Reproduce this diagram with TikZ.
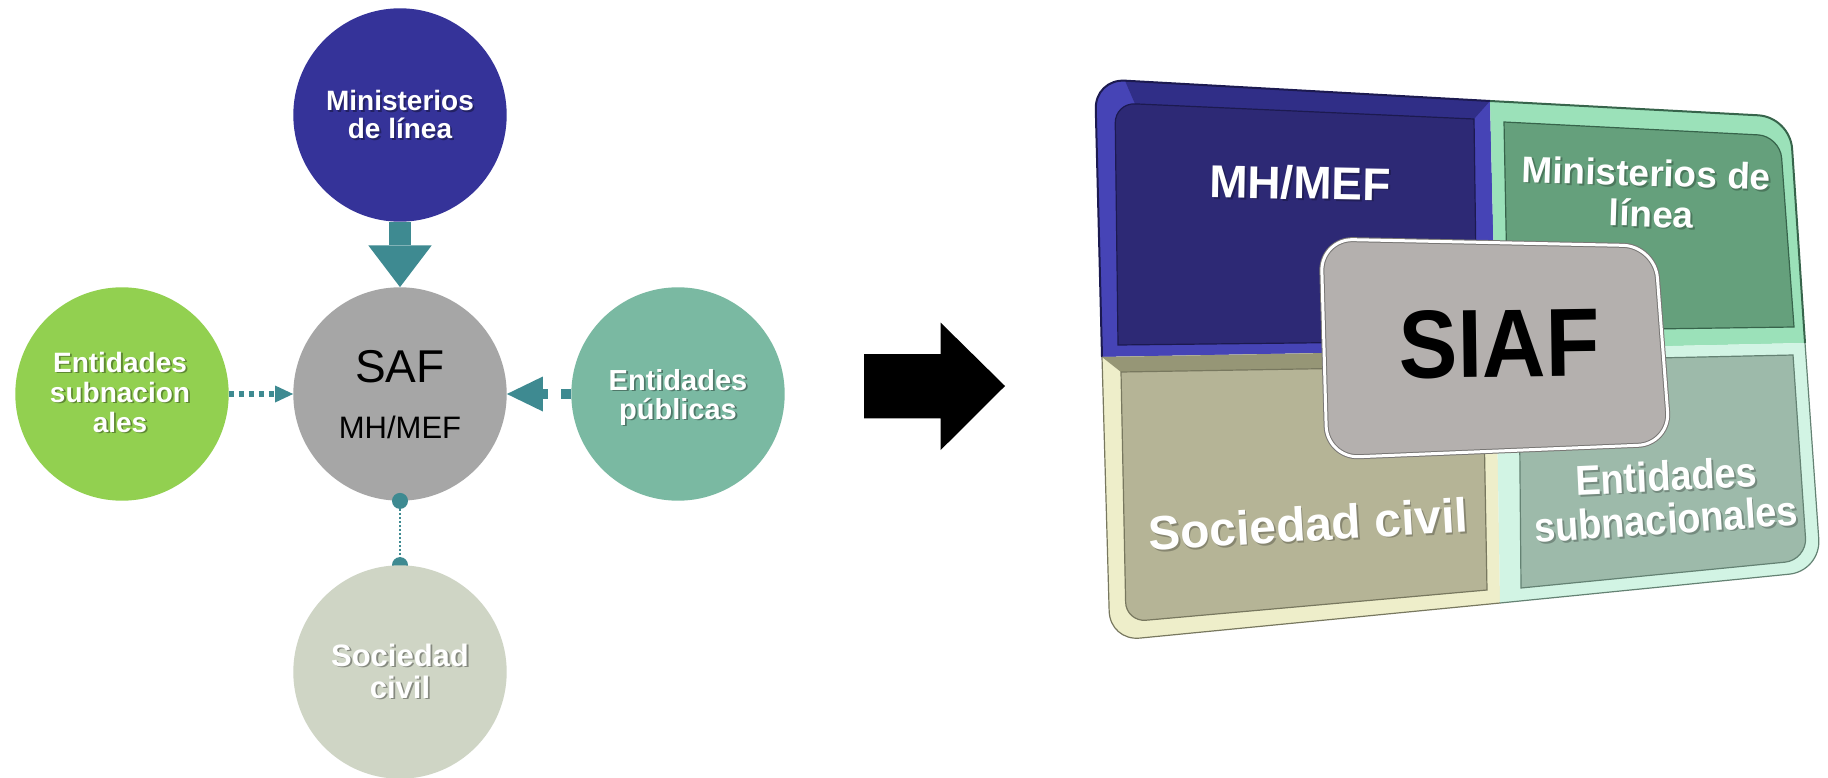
\documentclass[tikz,border=0pt]{standalone}
\usepackage{fontspec}
\setmainfont{Liberation Sans}
\usetikzlibrary{arrows.meta,calc}
\definecolor{minc}{RGB}{53,51,153}
\definecolor{safc}{RGB}{166,166,166}
\definecolor{subc}{RGB}{146,208,80}
\definecolor{pubc}{RGB}{122,185,162}
\definecolor{socc}{RGB}{207,213,197}
\definecolor{tealc}{RGB}{62,138,145}
\definecolor{mhbev}{RGB}{70,68,182}
\definecolor{mhtop}{RGB}{48,46,135}
\definecolor{mhface}{RGB}{45,41,117}
\definecolor{mhedge}{RGB}{28,26,80}
\definecolor{minbev}{RGB}{155,225,185}
\definecolor{minface}{RGB}{101,160,124}
\definecolor{minedge}{RGB}{55,100,75}
\definecolor{socbev}{RGB}{238,238,202}
\definecolor{soctop}{RGB}{150,150,118}
\definecolor{socface}{RGB}{181,180,150}
\definecolor{socedge}{RGB}{120,120,95}
\definecolor{entbev}{RGB}{210,244,228}
\definecolor{entface}{RGB}{157,186,170}
\definecolor{entedge}{RGB}{100,130,115}
\definecolor{siafc}{RGB}{180,176,174}
\definecolor{siafedge}{RGB}{120,118,116}
\pgfdeclarelayer{bg}
\pgfsetlayers{bg,main}
\newcommand\shtxt[7]{%
  \node[txt, text=black, opacity=#6, font=\fontsize{#3}{#3}\selectfont\bfseries, rotate=#4, yscale=#5] (#1s) at ($(#2)+(1.8,1.8)$) {#7};
  \node[txt, text=white, font=\fontsize{#3}{#3}\selectfont\bfseries, rotate=#4, yscale=#5] (#1) at (#2) {#7};}
\begin{document}
\begin{tikzpicture}[x=1pt,y=-1pt,
  circ/.style={circle, minimum size=213.4pt, inner sep=0pt, draw=none},
  txt/.style={anchor=base, inner sep=0pt, outer sep=0pt},
  innerline/.style={line width=1.2pt}]
\begin{pgfonlayer}{bg}
\fill[white] (0,0) rectangle (1828,778);
\end{pgfonlayer}
\useasboundingbox (0,0) rectangle (1828,778);

% ---------- left diagram ----------
\node[circ, fill=minc] (min) at (400,115) {};
\node[circ, fill=safc] (saf) at (400,394) {};
\node[circ, fill=subc] (sub) at (122,394) {};
\node[circ, fill=pubc] (pub) at (678,394) {};
\node[circ, fill=socc] (soc) at (400,672) {};

\shtxt{tmina}{400,111}{28}{0}{1}{0.35}{Ministerios}
\shtxt{tminb}{400,139}{28}{0}{1}{0.35}{de línea}
\node[txt, font=\fontsize{46}{46}\selectfont] (tsafa) at (400,382) {SAF};
\node[txt, font=\fontsize{31}{31}\selectfont] (tsafb) at (400,438) {MH/MEF};
\shtxt{tsuba}{120,372}{28}{0}{1}{0.35}{Entidades}
\shtxt{tsubb}{120,402}{28}{0}{1}{0.35}{subnacion}
\shtxt{tsubc}{120,432}{28}{0}{1}{0.35}{ales}
\shtxt{tpuba}{678,390}{29}{0}{1}{0.35}{Entidades}
\shtxt{tpubb}{678,419}{29}{0}{1}{0.35}{públicas}
\shtxt{tsoca}{400,666}{31}{0}{1}{0.35}{Sociedad}
\shtxt{tsocb}{400,698}{31}{0}{1}{0.35}{civil}

% connectors
\draw[tealc, line width=21.4pt, -{Triangle[width=63.4pt,length=41.7pt,line width=0pt]}] (min.south) -- (saf.north);
\draw[tealc, line width=6pt, dash pattern=on 5pt off 5pt, -{Triangle[width=17pt,length=18pt,line width=0pt]}] (sub.east) -- (saf.west);
\draw[tealc, line width=10.7pt, dash pattern=on 10pt off 13.3pt, -{Triangle[width=35pt,length=36pt,line width=0pt]}] (pub.west) -- (saf.east);
\begin{pgfonlayer}{bg}
\draw[tealc, line width=2.2pt, dash pattern=on 2pt off 2pt] (saf.south) -- (soc.north);
\fill[tealc] (soc.north) circle[radius=8];
\end{pgfonlayer}
\fill[tealc] (saf.south) circle[radius=8];

% ---------- big arrow ----------
\fill[black] (864,354) -- (940.7,354) -- (940.7,322.7) -- (1005,386) -- (940.7,450) -- (940.7,418.3) -- (864,418.3) -- cycle;

% ---------- right panel ----------
\coordinate (PTL) at (1095,79);
\coordinate (PTR) at (1790,117);
\coordinate (PBR) at (1821,571);
\coordinate (PBL) at (1110,641);
\coordinate (T) at (1490,101);
\coordinate (R) at (1805,343);
\coordinate (B) at (1500,603);
\coordinate (L) at (1102,357);
\coordinate (C) at (1496,350);

% MH/MEF tile
\coordinate (mA) at (1115,103);
\coordinate (mB) at (1474,119);
\coordinate (mC) at (1477,341);
\coordinate (mD) at (1118,345);
\fill[mhbev] ($(PTL)!30pt!(L)$) .. controls ($(PTL)!13pt!(L)$) and ($(PTL)!13pt!(T)$) .. ($(PTL)!30pt!(T)$) -- (T) -- (C) -- (L) -- cycle;
\fill[mhtop] ($(PTL)!30pt!(T)$) -- (T) -- (mB) -- ($(mA)!20pt!(mB)$) -- cycle;
\draw[mhedge, line width=2pt] (L) -- ($(PTL)!30pt!(L)$) .. controls ($(PTL)!13pt!(L)$) and ($(PTL)!13pt!(T)$) .. ($(PTL)!30pt!(T)$) -- (T);
\filldraw[fill=mhface, draw=mhedge, innerline] ($(mA)!20pt!(mD)$) .. controls ($(mA)!9pt!(mD)$) and ($(mA)!9pt!(mB)$) .. ($(mA)!20pt!(mB)$) -- (mB) -- (mC) -- (mD) -- cycle;

% Ministerios tile
\coordinate (nA) at (1780,136);
\coordinate (nB) at (1794,327);
\coordinate (nC) at (1508,331);
\coordinate (nD) at (1504,122);
\fill[minbev] ($(PTR)!32pt!(T)$) .. controls ($(PTR)!14pt!(T)$) and ($(PTR)!14pt!(R)$) .. ($(PTR)!32pt!(R)$) -- (R) -- (C) -- (T) -- cycle;
\draw[minedge, line width=2pt] (T) -- ($(PTR)!32pt!(T)$) .. controls ($(PTR)!14pt!(T)$) and ($(PTR)!14pt!(R)$) .. ($(PTR)!32pt!(R)$) -- (R);
\filldraw[fill=minface, draw=minedge, innerline] ($(nA)!22pt!(nD)$) .. controls ($(nA)!10pt!(nD)$) and ($(nA)!10pt!(nB)$) .. ($(nA)!22pt!(nB)$) -- (nB) -- (nC) -- (nD) -- cycle;

% Sociedad tile
\coordinate (sA) at (1126,622);
\coordinate (sB) at (1121,372);
\coordinate (sC) at (1483,366);
\coordinate (sD) at (1487,590);
\fill[socbev] ($(PBL)!30pt!(L)$) .. controls ($(PBL)!13pt!(L)$) and ($(PBL)!13pt!(B)$) .. ($(PBL)!30pt!(B)$) -- (B) -- (C) -- (L) -- cycle;
\fill[soctop] (L) -- (C) -- (sC) -- (sB) -- cycle;
\draw[socedge, line width=1.2pt] (L) -- ($(PBL)!30pt!(L)$) .. controls ($(PBL)!13pt!(L)$) and ($(PBL)!13pt!(B)$) .. ($(PBL)!30pt!(B)$) -- (B);
\filldraw[fill=socface, draw=socedge, innerline] ($(sA)!20pt!(sB)$) .. controls ($(sA)!9pt!(sB)$) and ($(sA)!9pt!(sD)$) .. ($(sA)!20pt!(sD)$) -- (sD) -- (sC) -- (sB) -- cycle;

% Entidades subnacionales tile
\coordinate (eA) at (1807,560);
\coordinate (eB) at (1793,355);
\coordinate (eC) at (1519,361);
\coordinate (eD) at (1521,588);
\fill[entbev] ($(PBR)!32pt!(R)$) .. controls ($(PBR)!14pt!(R)$) and ($(PBR)!14pt!(B)$) .. ($(PBR)!32pt!(B)$) -- (B) -- (C) -- (R) -- cycle;
\draw[entedge, line width=1.2pt] (R) -- ($(PBR)!32pt!(R)$) .. controls ($(PBR)!14pt!(R)$) and ($(PBR)!14pt!(B)$) .. ($(PBR)!32pt!(B)$) -- (B);
\filldraw[fill=entface, draw=entedge, innerline] ($(eA)!22pt!(eB)$) .. controls ($(eA)!10pt!(eB)$) and ($(eA)!10pt!(eD)$) .. ($(eA)!22pt!(eD)$) -- (eD) -- (eC) -- (eB) -- cycle;

% tile texts
\shtxt{tpmh}{1300,199}{46}{-1}{1}{0.25}{MH/MEF}
\shtxt{tpmina}{1646,186}{37}{-1.8}{1}{0.25}{Ministerios de}
\shtxt{tpminb}{1651,227}{37}{-1.8}{1}{0.25}{línea}
\shtxt{tpsoc}{1309,541}{48}{3.3}{1}{0.25}{Sociedad civil}
\shtxt{tpenta}{1667,491}{38}{2.7}{1.1}{0.25}{Entidades}
\shtxt{tpentb}{1667,534}{38}{3.9}{1.1}{0.25}{subnacionales}

% SIAF box
\coordinate (S1) at (1321,239);
\coordinate (S2) at (1655,246);
\coordinate (S3) at (1670,444);
\coordinate (S4) at (1327,458);
\filldraw[fill=siafc, draw=siafedge, line width=1pt, double=white, double distance=3pt, rounded corners=32pt] (S1) -- (S2) -- (S3) -- (S4) -- cycle;
\node[txt, font=\fontsize{88}{88}\selectfont\bfseries, rotate=0.8, yscale=1.1] (tsiaf) at (1500,377) {SIAF};
\end{tikzpicture}
\end{document}
